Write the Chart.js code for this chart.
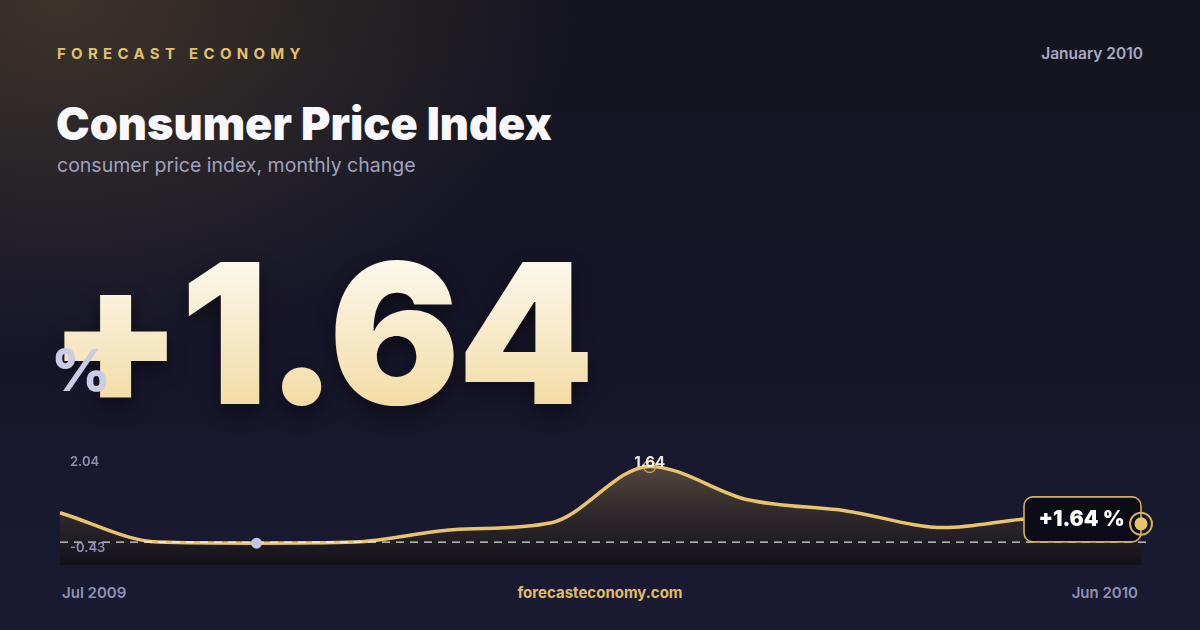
<!DOCTYPE html>
<html>
<head>
<meta charset="utf-8">
<script src="https://cdn.jsdelivr.net/npm/chart.js@4.4.1/dist/chart.umd.min.js"></script>
<style>
  html, body { margin: 0; padding: 0; }
  body {
    width: 1200px; height: 630px; overflow: hidden; position: relative;
    font-family: Inter, "Noto Sans", sans-serif;
    background:
      radial-gradient(ellipse 520px 360px at 60px 0px, rgba(92, 76, 52, 0.55), rgba(92, 76, 52, 0) 100%),
      linear-gradient(180deg, #15151f 0%, #151528 45%, #1a1a33 100%);
  }
  .t { position: absolute; white-space: nowrap; line-height: 1; }
  #brand { left: 57px; top: 46px; font-size: 15px; font-weight: 700; letter-spacing: 5.3px; color: #e3c06c; }
  #date { right: 57px; top: 46px; font-size: 15.5px; font-weight: 600; color: #a8aac8; }
  #title { left: 56px; top: 101px; font-size: 45px; font-weight: 900; letter-spacing: 0px; color: #f8f8fc; }
  #sub { left: 57px; top: 156px; font-size: 19.5px; font-weight: 400; color: #a0a2c0; }
  #big {
    left: 48px; top: 236px; font-size: 195px; font-weight: 900; letter-spacing: -3px;
    background: linear-gradient(180deg, #fdfcf8 0%, #f7e8c4 55%, #f2d697 100%);
    -webkit-background-clip: text; background-clip: text; color: transparent;
    filter: drop-shadow(0 8px 10px rgba(0,0,0,0.45));
  }
  #pct { left: 51px; top: 341px; font-size: 58px; font-weight: 800; color: #c9cce4; }
  #from { left: 62px; top: 585px; font-size: 15px; font-weight: 600; color: #8f92b4; }
  #to { right: 62px; top: 585px; font-size: 15px; font-weight: 600; color: #8f92b4; }
  #site { left: 0; width: 1200px; text-align: center; top: 585px; font-size: 15px; font-weight: 700; color: #e0bd68; }
  canvas { position: absolute; left: 0; top: 0; }
</style>
</head>
<body>
<div class="t" id="brand">FORECAST ECONOMY</div>
<div class="t" id="date">January 2010</div>
<div class="t" id="title">Consumer Price Index</div>
<div class="t" id="sub">consumer price index, monthly change</div>
<div class="t" id="big">+1.64</div>
<div class="t" id="pct">%</div>
<div class="t" id="from">Jul 2009</div>
<div class="t" id="site">forecasteconomy.com</div>
<div class="t" id="to">Jun 2010</div>
<canvas id="cpiChart" width="1200" height="630"></canvas>

<script>
// --- Data ---
const months = ['Jul 2009', 'Aug 2009', 'Sep 2009', 'Oct 2009', 'Nov 2009', 'Dec 2009',
                'Jan 2010', 'Feb 2010', 'Mar 2010', 'Apr 2010', 'May 2010', 'Jun 2010'];
const cpiChange = [0.39, -0.40, -0.43, -0.40, -0.07, 0.12, 1.64, 0.74, 0.44, -0.01, 0.25, 0.09];
const scaleMin = -1.02;
const scaleMax = 2.04;
const maxLabel = '2.04';
const minLabel = '-0.43';
const peakLabel = '1.64';
const latestLabel = '+1.64 %';

const gold = '#e8c46e';

document.addEventListener('DOMContentLoaded', () => {
    const minIdx = cpiChange.indexOf(Math.min(...cpiChange));
    const maxIdx = cpiChange.indexOf(Math.max(...cpiChange));
    const lastIdx = cpiChange.length - 1;

    // extra drawing: reference line, labels, callout
    const overlay = {
        id: 'overlay',
        afterDatasetsDraw(chart) {
            const { ctx, chartArea, scales } = chart;
            const pts = chart.getDatasetMeta(0).data;
            const y = scales.y;
            ctx.save();

            // dashed line at the minimum
            const yMin = y.getPixelForValue(cpiChange[minIdx]);
            ctx.strokeStyle = 'rgba(255,255,255,0.85)';
            ctx.lineWidth = 1.2;
            ctx.setLineDash([8, 6]);
            ctx.beginPath();
            ctx.moveTo(chartArea.left, yMin - 1);
            ctx.lineTo(chartArea.right + 5, yMin - 1);
            ctx.stroke();
            ctx.setLineDash([]);

            // min / max labels
            ctx.font = '600 13px Inter';
            ctx.fillStyle = '#8e90b0';
            ctx.textAlign = 'left';
            ctx.textBaseline = 'middle';
            ctx.fillText(maxLabel, 70, y.getPixelForValue(scaleMax) + 10);
            ctx.fillText(minLabel, 70, yMin + 5);

            // min point marker
            ctx.fillStyle = '#c2c6de';
            ctx.beginPath();
            ctx.arc(pts[minIdx].x, pts[minIdx].y, 5.5, 0, Math.PI * 2);
            ctx.fill();

            // peak marker + label
            const pk = pts[maxIdx];
            ctx.strokeStyle = 'rgba(214,170,80,0.9)';
            ctx.lineWidth = 1.5;
            ctx.beginPath();
            ctx.arc(pk.x, pk.y, 6, 0, Math.PI * 2);
            ctx.stroke();
            ctx.font = '700 15px Inter';
            ctx.fillStyle = 'rgba(248,244,236,0.95)';
            ctx.textAlign = 'center';
            ctx.fillText(peakLabel, pk.x, pk.y - 4);

            // last point callout
            const lp = pts[lastIdx];
            const bx = lp.x - 117, by = lp.y - 27, bw = 117, bh = 45;
            ctx.fillStyle = '#0c0c18';
            ctx.strokeStyle = '#d6ae57';
            ctx.lineWidth = 1.6;
            ctx.beginPath();
            ctx.roundRect(bx, by, bw, bh, 9);
            ctx.fill();
            ctx.stroke();
            ctx.font = '900 21px Inter';
            ctx.fillStyle = '#ffffff';
            ctx.textAlign = 'center';
            ctx.fillText(latestLabel, bx + bw / 2 - 1, by + bh / 2);

            // end marker
            ctx.strokeStyle = '#d6ae57';
            ctx.lineWidth = 2;
            ctx.beginPath();
            ctx.arc(lp.x, lp.y, 11, 0, Math.PI * 2);
            ctx.stroke();
            ctx.fillStyle = gold;
            ctx.beginPath();
            ctx.arc(lp.x, lp.y, 6.5, 0, Math.PI * 2);
            ctx.fill();

            ctx.restore();
        }
    };

    new Chart(document.getElementById('cpiChart'), {
        type: 'line',
        data: {
            labels: months,
            datasets: [{
                data: cpiChange,
                borderColor: gold,
                borderWidth: 3.5,
                pointRadius: 0,
                tension: 0.4,
                cubicInterpolationMode: 'monotone',
                fill: 'start',
                backgroundColor: (c) => {
                    const area = c.chart.chartArea;
                    if (!area) return 'rgba(0,0,0,0)';
                    const g = c.chart.ctx.createLinearGradient(0, area.top, 0, area.bottom);
                    g.addColorStop(0, 'rgba(120,100,75,0.75)');
                    g.addColorStop(0.5, 'rgba(60,50,45,0.75)');
                    g.addColorStop(1, 'rgba(16,15,24,0.85)');
                    return g;
                }
            }]
        },
        options: {
            responsive: false,
            animation: false,
            layout: { padding: { left: 60, right: 59, top: 451.6, bottom: 65 } },
            plugins: { legend: { display: false }, tooltip: { enabled: false } },
            scales: {
                x: { display: false },
                y: { display: false, min: scaleMin, max: scaleMax }
            }
        },
        plugins: [overlay]
    });
});
</script>
</body>
</html>
